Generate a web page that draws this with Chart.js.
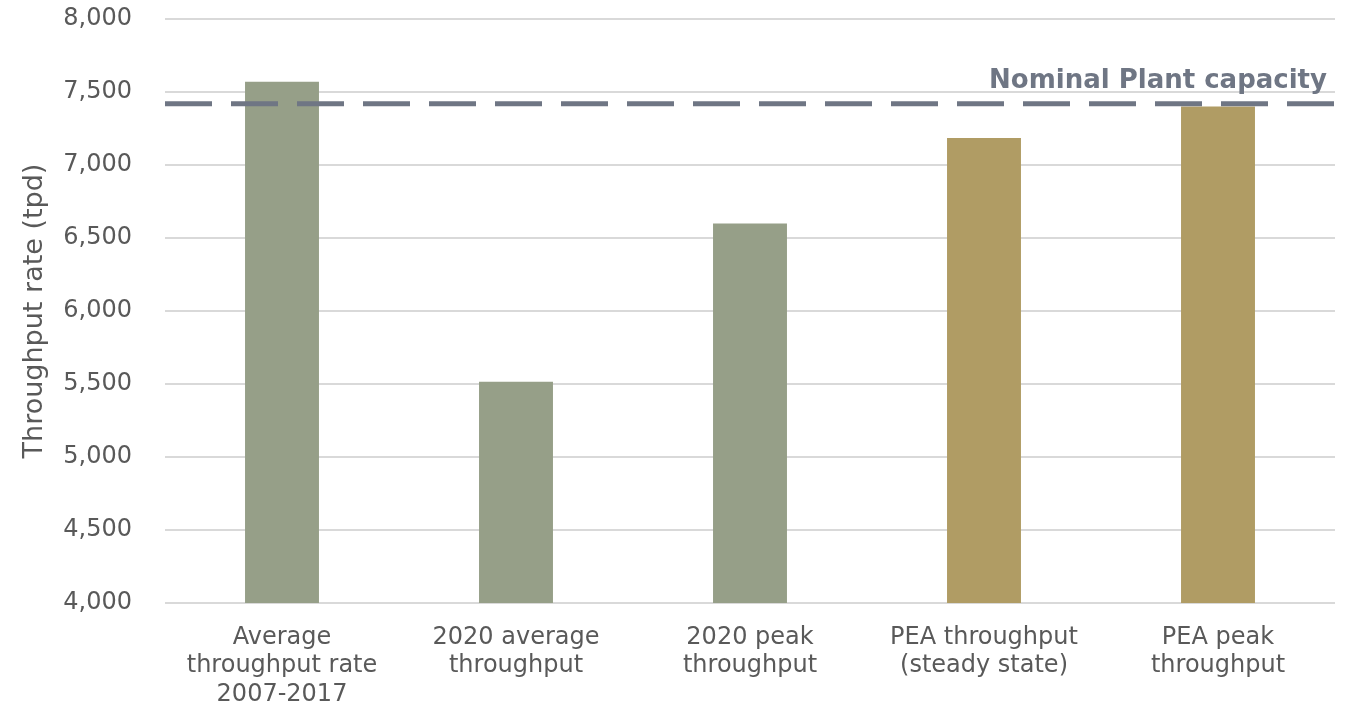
<!DOCTYPE html>
<html>
<head>
<meta charset="utf-8">
<script src="https://cdn.jsdelivr.net/npm/chart.js@4.4.1/dist/chart.umd.min.js"></script>
<style>
  html, body { margin: 0; padding: 0; background: #fff; }
  #wrap { width: 1349px; height: 706px; position: relative; }
</style>
</head>
<body>
<div id="wrap"><canvas id="chart"></canvas></div>
<script>
// data
const categories = [
    ['Average', 'throughput rate', '2007-2017'],
    ['2020 average', 'throughput'],
    ['2020 peak', 'throughput'],
    ['PEA throughput', '(steady state)'],
    ['PEA peak', 'throughput']
];
const throughputValues = [7570, 5515, 6600, 7185, 7400];
const barColors = ['#969F88', '#969F88', '#969F88', '#B09C64', '#B09C64'];
const nominalCapacity = [7420];
const nominalLabel = ['Nominal Plant capacity'];
const yTicks = [4000, 4500, 5000, 5500, 6000, 6500, 7000, 7500, 8000];

const FONT = "'DejaVu Sans', Verdana, sans-serif";

// dashed capacity line across the full plot width, placed through the y scale
const capacityLine = {
    id: 'capacityLine',
    afterDatasetsDraw(chart) {
        const { ctx, chartArea, scales } = chart;
        const y = scales.y.getPixelForValue(nominalCapacity[0]);
        ctx.save();
        ctx.strokeStyle = '#6F7684';
        ctx.lineWidth = 5;
        ctx.setLineDash([47, 19]);
        ctx.beginPath();
        ctx.moveTo(chartArea.left, y);
        ctx.lineTo(chartArea.right, y);
        ctx.stroke();
        ctx.setLineDash([]);
        ctx.fillStyle = '#6F7684';
        ctx.font = 'bold 26px ' + FONT;
        ctx.textAlign = 'right';
        ctx.textBaseline = 'alphabetic';
        ctx.fillText(nominalLabel[0], chartArea.right - 8, y - 16);
        ctx.restore();
    }
};

new Chart(document.getElementById('chart'), {
    type: 'bar',
    data: {
        labels: categories,
        datasets: [{
            data: throughputValues,
            backgroundColor: barColors,
            borderWidth: 0,
            categoryPercentage: 1,
            barPercentage: 0.316
        }]
    },
    options: {
        responsive: true,
        maintainAspectRatio: false,
        animation: false,
        layout: { padding: { top: 19, right: 14, left: 19, bottom: 0 } },
        plugins: {
            legend: { display: false },
            tooltip: { enabled: false }
        },
        scales: {
            x: {
                grid: { display: false, drawTicks: false },
                border: { display: false },
                ticks: {
                    color: '#595959',
                    font: { family: FONT, size: 24 },
                    padding: 20,
                    maxRotation: 0,
                    autoSkip: false
                },
                afterFit(scale) {
                    scale.height = 103;
                    scale.paddingLeft = 0;
                    scale.paddingRight = 0;
                }
            },
            y: {
                min: 4000,
                max: 8000,
                afterBuildTicks(scale) { scale.ticks = yTicks.map(v => ({ value: v })); },
                grid: { color: '#D9D9D9', lineWidth: 2, drawTicks: false },
                border: { display: false },
                ticks: {
                    color: '#595959',
                    font: { family: FONT, size: 24 },
                    padding: 33,
                    callback: v => v.toLocaleString('en-US')
                },
                title: {
                    display: true,
                    text: 'Throughput rate (tpd)',
                    color: '#595959',
                    font: { family: FONT, size: 27, weight: 'normal' },
                    padding: { top: 0, bottom: 0 }
                },
                afterFit(scale) {
                    scale.width = 146;
                    scale.paddingTop = 0;
                    scale.paddingBottom = 0;
                }
            }
        }
    },
    plugins: [capacityLine]
});
</script>
</body>
</html>
